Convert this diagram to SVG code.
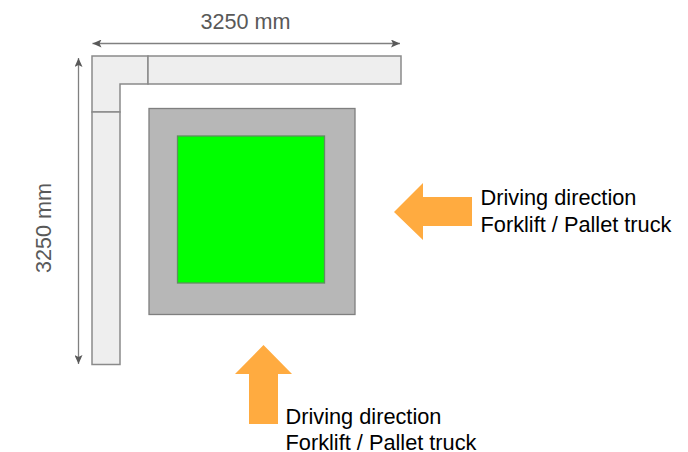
<svg xmlns="http://www.w3.org/2000/svg" width="688" height="452" viewBox="0 0 688 452">
<defs>
<marker id="ah" markerUnits="userSpaceOnUse" markerWidth="10" markerHeight="8" refX="9" refY="4" orient="auto-start-reverse"><path d="M0 0L9 4L0 8L2 4Z" fill="#595959"/></marker>
</defs>
<style>
.wall{fill:#eeeeee;stroke:#8a8a8a;stroke-width:1.5}
.dim{stroke:#808080;stroke-width:1.3;fill:none;marker-start:url(#ah);marker-end:url(#ah)}
.arrow{fill:#ffab40}
text{font-family:"Liberation Sans",Arial,sans-serif}
.d{font-size:21.6px;fill:#595959}
.l{font-size:21.75px;fill:#000}
</style>
<rect width="688" height="452" fill="#fff"/>
<g id="connectors">
<line class="dim" x1="92.500" y1="43.500" x2="400" y2="43.500"/>
<line class="dim" x1="78.500" y1="58" x2="78.500" y2="364"/>
</g>
<g id="wall-corner"><path class="wall" d="M92 56H148V84H120V112H92Z"/></g>
<g id="wall-top"><rect class="wall" x="148" y="56" width="253" height="28"/></g>
<g id="wall-left"><rect class="wall" x="92" y="112" width="28" height="252.500"/></g>
<g id="platform"><rect x="149" y="108.500" width="206" height="206" fill="#b7b7b7" stroke="#7f7f7f" stroke-width="1.300"/></g>
<g id="load"><rect x="177.500" y="136" width="147" height="147" fill="#00ff00" stroke="#5f8f5f" stroke-width="1.300"/></g>
<g id="arrow-right"><path class="arrow" d="M394 212L423 183V197H472V226H423V240Z"/></g>
<g id="arrow-bottom"><path class="arrow" d="M263.500 345L292 374H278V424H249V374H235Z"/></g>
<g id="dim-top-label"><text class="d" x="245.500" y="29" text-anchor="middle">3250 mm</text></g>
<g id="dim-left-label"><text class="d" transform="translate(51 228) rotate(-90)" text-anchor="middle">3250 mm</text></g>
<g id="label-right"><text class="l" x="480.500" y="205">Driving direction</text><text class="l" x="480.500" y="232">Forklift / Pallet truck</text></g>
<g id="label-bottom"><text class="l" x="285.500" y="424">Driving direction</text><text class="l" x="285.500" y="450">Forklift / Pallet truck</text></g>
</svg>
